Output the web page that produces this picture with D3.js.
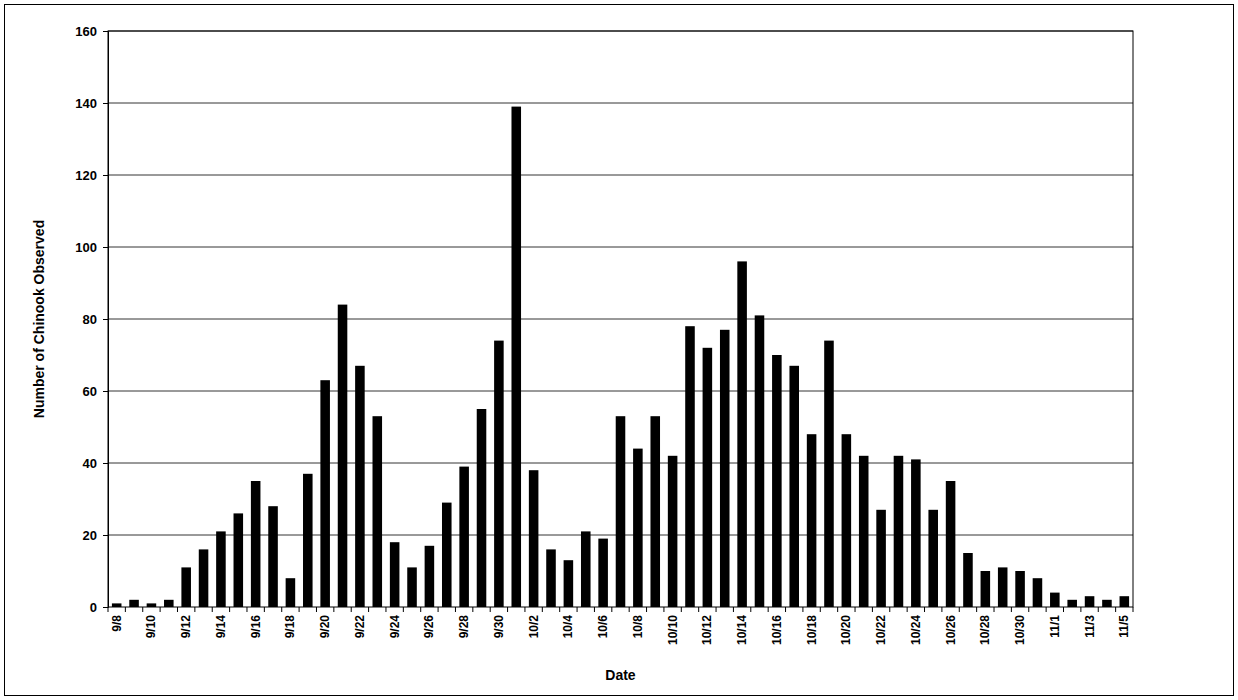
<!DOCTYPE html>
<html><head><meta charset="utf-8">
<script src="https://cdn.jsdelivr.net/npm/d3@7"></script>
<style>body{margin:0;background:#fff}text{font-family:Arial,"Liberation Sans",sans-serif;font-weight:bold}</style>
</head><body><svg id="c" width="1238" height="700"></svg>
<script>
const dates = ["9/8","9/9","9/10","9/11","9/12","9/13","9/14","9/15","9/16","9/17","9/18","9/19","9/20","9/21","9/22","9/23","9/24","9/25","9/26","9/27","9/28","9/29","9/30","10/1","10/2","10/3","10/4","10/5","10/6","10/7","10/8","10/9","10/10","10/11","10/12","10/13","10/14","10/15","10/16","10/17","10/18","10/19","10/20","10/21","10/22","10/23","10/24","10/25","10/26","10/27","10/28","10/29","10/30","10/31","11/1","11/2","11/3","11/4","11/5"]
const counts = [1,2,1,2,11,16,21,26,35,28,8,37,63,84,67,53,18,11,17,29,39,55,74,139,38,16,13,21,19,53,44,53,42,78,72,77,96,81,70,67,48,74,48,42,27,42,41,27,35,15,10,11,10,8,4,2,3,2,3]
const yTicks = [0,20,40,60,80,100,120,140,160]

const svg = d3.select("#c")
svg.append("rect").attr("x",4.5).attr("y",4.5).attr("width",1229).attr("height",691)
    .attr("fill","none").attr("stroke","#000")

const L=108, R=1133, T=31, B=607
const x = d3.scaleBand().domain(dates).range([L,R]).paddingInner(0.45).paddingOuter(0.225)
const y = d3.scaleLinear().domain([0,160]).range([B,T])

svg.append("g").selectAll("line").data(yTicks.slice(1)).enter().append("line")
    .attr("x1",L).attr("x2",R).attr("y1",d=>y(d)).attr("y2",d=>y(d)).attr("stroke","#000").attr("stroke-width",0.8)
svg.append("rect").attr("x",L).attr("y",T).attr("width",R-L).attr("height",B-T)
    .attr("fill","none").attr("stroke","#000")

svg.append("g").selectAll("rect").data(counts).enter().append("rect")
    .attr("x",(d,i)=>x(dates[i])).attr("width",x.bandwidth())
    .attr("y",d=>y(d)).attr("height",d=>B-y(d)).attr("fill","#000")

svg.append("g").attr("transform","translate("+L+",0)")
    .call(d3.axisLeft(y).tickValues(yTicks).tickSize(5).tickPadding(6))
    .call(g=>g.selectAll("text").attr("font-size",13).attr("font-weight","bold"))
const step = (R-L)/dates.length
const xa = svg.append("g").attr("transform","translate(0,"+B+")")
xa.selectAll("line.t").data(d3.range(dates.length+1)).enter().append("line").attr("class","t")
    .attr("x1",i=>L+i*step).attr("x2",i=>L+i*step).attr("y1",0).attr("y2",5).attr("stroke","#000")
xa.selectAll("text.l").data(dates.filter((d,i)=>i%2==0)).enter().append("text").attr("class","l")
    .attr("transform",d=>"translate("+(x(d)+x.bandwidth()/2+4)+",8) rotate(-90)")
    .attr("text-anchor","end").attr("font-size",12).attr("fill","#000").text(d=>d)

svg.append("text").attr("x",(L+R)/2).attr("y",680).attr("text-anchor","middle").attr("font-size",14).text("Date")
svg.append("text").attr("transform","translate(44,"+(T+B)/2+") rotate(-90)")
    .attr("text-anchor","middle").attr("font-size",14).text("Number of Chinook Observed")
</script></body></html>
